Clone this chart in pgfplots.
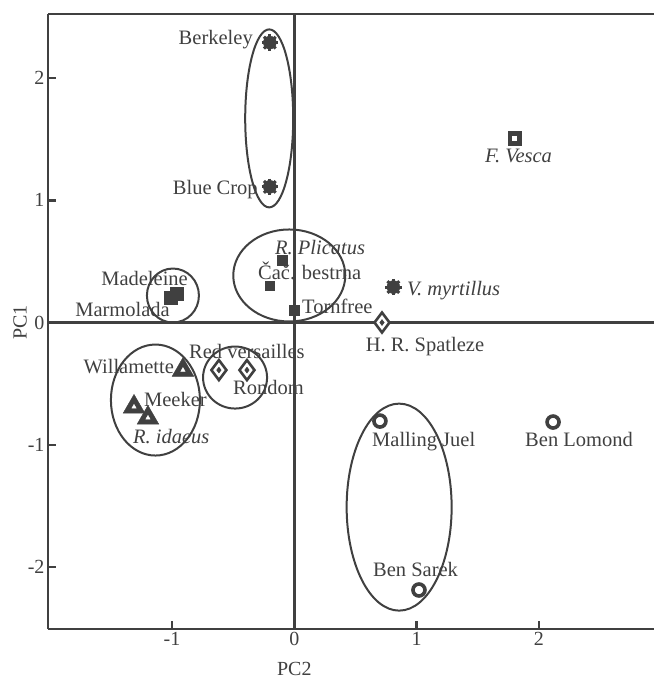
\documentclass[border=0pt]{standalone}
\usepackage{pgfplots}
\pgfplotsset{compat=1.18}
\usepackage{fontspec}
\setmainfont{Liberation Serif}
\definecolor{dk}{HTML}{404040}
\newcommand\lab{\fontsize{20.5bp}{24bp}\selectfont}
\begin{document}
\begin{tikzpicture}
\useasboundingbox (-48bp,-52bp) rectangle (606bp,629bp);
\begin{axis}[
 at={(0,0)}, anchor=south west,
 scale only axis, width=606bp, height=615bp,
 xmin=-2.013, xmax=2.94, ymin=-2.507, ymax=2.524,
 axis x line*=box, axis y line*=left,
 xtick pos=bottom, ytick pos=left,
 xtick={-1,0,1,2}, ytick={-2,-1,0,1,2},
 tick align=inside, major tick length=8bp,
 every tick/.style={dk, line width=2.5bp},
 axis line style={dk, line width=2.5bp},
 ticklabel style={font=\fontsize{20bp}{24bp}\selectfont, text=dk},
 /pgf/number format/assume math mode=true,
 clip=false,
]
% centre lines
\draw[dk, line width=2.5bp] (axis cs:0,-2.507) -- (axis cs:0,2.524);
\draw[dk, line width=2.5bp] (axis cs:-2.013,0) -- (axis cs:2.94,0);
% ellipses
\draw[dk, line width=2bp] (axis cs:-0.205,1.67) ellipse [x radius=24bp, y radius=89bp];
\draw[dk, line width=2bp] (axis cs:-0.041,0.385) ellipse [x radius=56bp, y radius=46bp];
\draw[dk, line width=2bp] (axis cs:-0.992,0.221) ellipse [x radius=26bp, y radius=27bp];
\draw[dk, line width=2bp] (axis cs:-1.135,-0.634) ellipse [x radius=44.5bp, y radius=55.5bp];
\draw[dk, line width=2bp] (axis cs:-0.484,-0.45) ellipse [x radius=32bp, y radius=31bp];
\draw[dk, line width=2bp] (axis cs:0.857,-1.51) ellipse [x radius=52.5bp, y radius=103.5bp];
% asterisks (Vaccinium)
\addplot[only marks, mark=*, mark size=6.5bp, dk] coordinates {(-0.2,2.29) (-0.2,1.11) (0.81,0.29)};
\addplot[only marks, mark=+, mark size=8.3bp, dk, mark options={line width=3bp}] coordinates {(-0.2,2.29) (-0.2,1.11) (0.81,0.29)};
\addplot[only marks, mark=x, mark size=8.3bp, dk, mark options={line width=3bp}] coordinates {(-0.2,2.29) (-0.2,1.11) (0.81,0.29)};
% small squares
\addplot[only marks, mark=square*, mark size=4.8bp, dk] coordinates {(-0.1,0.51) (-0.2,0.3) (0,0.1)};
% larger squares
\addplot[only marks, mark=square*, mark size=6.5bp, dk] coordinates {(-0.959,0.233) (-1.008,0.2)};
% F. vesca
\addplot[only marks, mark=square*, mark size=6.8bp, dk] coordinates {(1.8,1.51)};
\addplot[only marks, mark=square*, mark size=2bp, white] coordinates {(1.8,1.51)};
% triangles
\addplot[only marks, mark=triangle*, mark size=12.5bp, dk] coordinates {(-0.91,-0.389) (-1.31,-0.69) (-1.196,-0.78)};
\addplot[only marks, mark=triangle*, mark size=2.5bp, white] coordinates {(-0.91,-0.389) (-1.31,-0.69) (-1.196,-0.78)};
% diamonds
\addplot[only marks, mark=diamond*, mark size=10bp, dk, mark options={fill=white, draw=dk, line width=2.6bp}] coordinates {(-0.616,-0.389) (-0.387,-0.389) (0.717,0)};
\addplot[only marks, mark=diamond*, mark size=3bp, dk] coordinates {(-0.616,-0.389) (-0.387,-0.389) (0.717,0)};
% circles
\addplot[only marks, mark=o, mark size=6bp, dk, mark options={line width=3.6bp}] coordinates {(0.7,-0.806) (2.115,-0.814) (1.019,-2.188)};
% labels
\begin{scope}[every node/.style={inner sep=0pt, font=\lab, text=dk}]
\node[anchor=base east] at (axis cs:-0.338,2.278) {Berkeley};
\node[anchor=base east] at (axis cs:-0.297,1.051) {Blue Crop};
\node[anchor=base west] at (axis cs:-1.579,0.299) {Madeleine};
\node[anchor=base east] at (axis cs:-1.016,0.053) {Marmolada};
\node[anchor=base west] at (axis cs:-0.158,0.560) {\textit{R. Plicatus}};
\node[anchor=base west] at (axis cs:-0.297,0.356) {Čač. bestrna};
\node[anchor=base west] at (axis cs:0.063,0.078) {Tornfree};
\node[anchor=base west] at (axis cs:0.921,0.225) {\textit{V. myrtillus}};
\node[anchor=base] at (axis cs:1.833,1.309) {\textit{F. Vesca}};
\node[anchor=base] at (axis cs:1.068,-0.241) {H. R. Spatleze};
\node[anchor=base west] at (axis cs:-0.861,-0.291) {Red versailles};
\node[anchor=base east] at (axis cs:-0.983,-0.42) {Willamette};
\node[anchor=base west] at (axis cs:-0.501,-0.585) {Rondom};
\node[anchor=base west] at (axis cs:-1.229,-0.684) {Meeker};
\node[anchor=base west] at (axis cs:-1.319,-0.986) {\textit{R. idaeus}};
\node[anchor=base west] at (axis cs:0.635,-1.018) {Malling Juel};
\node[anchor=base west] at (axis cs:1.886,-1.018) {Ben Lomond};
\node[anchor=base west] at (axis cs:0.643,-2.074) {Ben Sarek};
\node[anchor=base, font=\fontsize{20bp}{24bp}\selectfont] at (axis cs:0,-2.89) {PC2};
\node[rotate=90, anchor=center, font=\fontsize{20bp}{24bp}\selectfont] at (axis cs:-2.242,0) {PC1};
\end{scope}
\end{axis}
\end{tikzpicture}
\end{document}
